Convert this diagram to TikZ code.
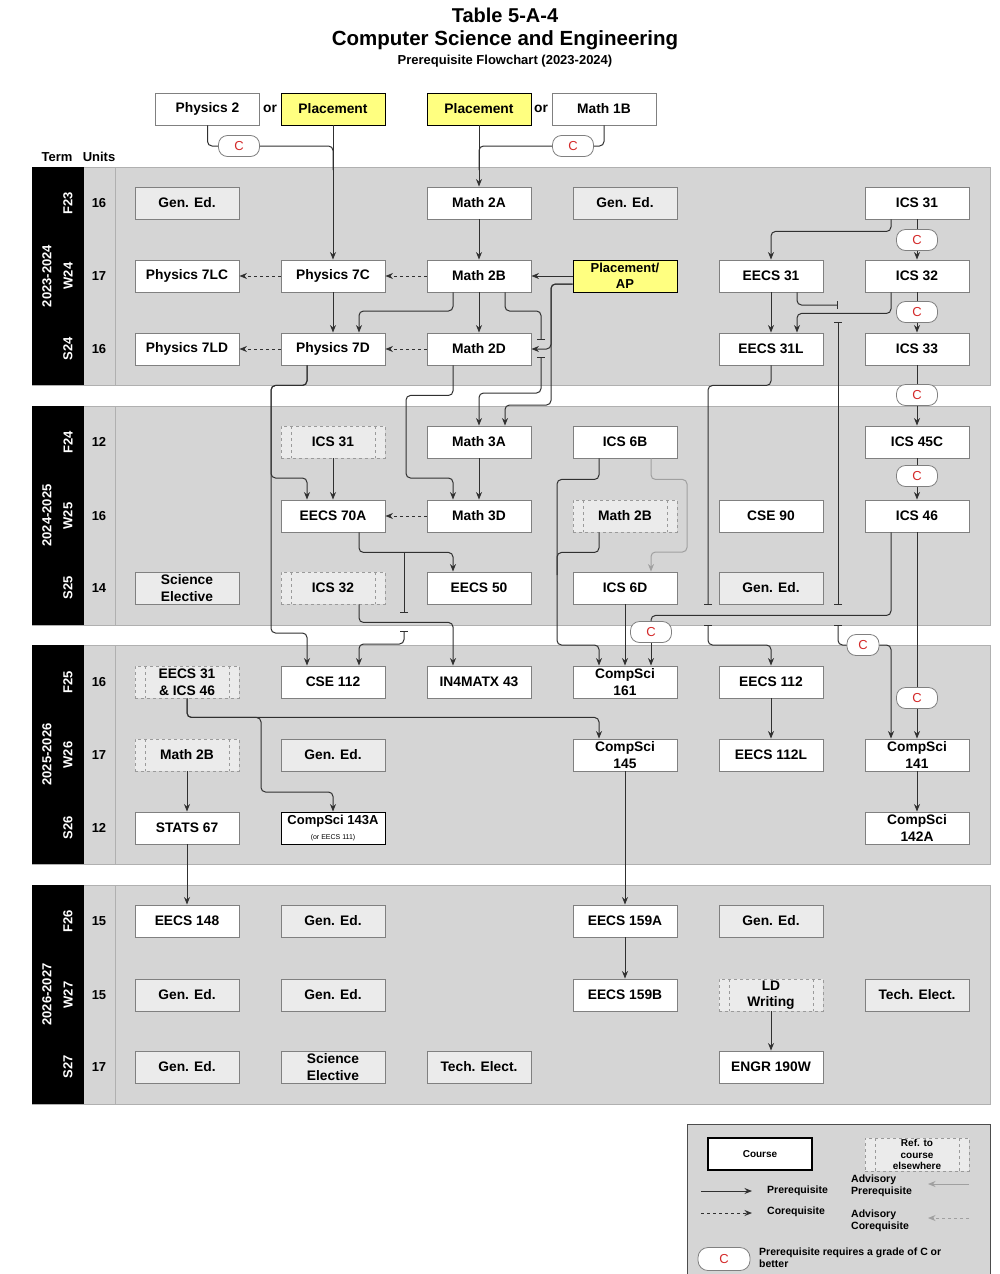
\documentclass[tikz,border=0pt]{standalone}
\usepackage{fontspec}
\setmainfont{Liberation Sans}
\usetikzlibrary{arrows.meta,calc}
\definecolor{panelc}{HTML}{D5D5D5}
\definecolor{genc}{HTML}{EBEBEB}
\definecolor{boxc}{HTML}{808080}
\definecolor{refc}{HTML}{9A9A9A}
\definecolor{yelc}{HTML}{FFFF80}
\definecolor{linec}{HTML}{303030}
\definecolor{advc}{HTML}{A0A0A0}
\definecolor{cred}{HTML}{D42A2A}
\definecolor{divc}{HTML}{B0B0B0}
\tikzset{
 box/.style={draw=boxc, line width=0.9pt, fill=white, minimum width=104pt, minimum height=32pt, inner sep=0pt, font=\fontsize{13.8}{16.5}\selectfont\bfseries, align=center},
 gened/.style={box, fill=genc},
 yel/.style={box, fill=yelc, draw=black},
 refbox/.style={box, fill=genc, draw=refc, dashed, path picture={\draw[refc,dashed,line width=0.8pt] ([xshift=10pt]path picture bounding box.north west) -- ([xshift=10pt]path picture bounding box.south west) ([xshift=-10pt]path picture bounding box.north east) -- ([xshift=-10pt]path picture bounding box.south east);}},
 cov/.style={draw=boxc, line width=0.8pt, fill=white, rounded corners=9pt, minimum width=41pt, minimum height=21pt, inner sep=0pt, text=cred, font=\fontsize{13}{13}\selectfont},
 ln/.style={draw=linec, line width=1pt, rounded corners=4.5pt},
 pre/.style={ln, -{Stealth[length=7.5pt,width=6pt]}},
 co/.style={pre, dashed},
 adv/.style={pre, draw=advc},
 brkend/.style={ln, -{Bar[width=8pt]}},
 brkboth/.style={ln, {Bar[width=8pt]}-{Bar[width=8pt]}},
 brkstart/.style={ln, {Bar[width=8pt]}-},
 brkpre/.style={ln, {Bar[width=8pt]}-{Stealth[length=7.5pt,width=6pt]}},
 txt/.style={inner sep=0pt, font=\fontsize{13.8}{16}\selectfont\bfseries},
 term/.style={inner sep=0pt, text=white, rotate=90, font=\fontsize{13}{13}\selectfont\bfseries},
 units/.style={inner sep=0pt, font=\fontsize{13}{13}\selectfont\bfseries},
 lt/.style={inner sep=0pt, font=\fontsize{10.5}{12}\selectfont\bfseries, align=left},
}
\begin{document}
\begin{tikzpicture}[x=1pt,y=-1pt]
\useasboundingbox (0,0) rectangle (1000,1274);
% titles
\node[txt, font=\fontsize{20}{20}\selectfont\bfseries] (t1) at (505,15) {Table 5-A-4};
\node[txt, font=\fontsize{20.5}{20}\selectfont\bfseries] (t2) at (505,40) {Computer Science and Engineering};
\node[txt, font=\fontsize{13}{13}\selectfont\bfseries] (t3) at (505,61) {Prerequisite Flowchart (2023-2024)};
\node[units] (hterm) at (57,157) {Term};
\node[units] (hunits) at (99,157) {Units};
% panels
\foreach \t/\b in {167/385, 406/625, 645/864, 885/1104} {
  \fill[panelc] (32,\t) rectangle (990,\b);
  \draw[divc, line width=0.6pt] (32,\t) rectangle (990,\b);
  \fill[black] (32,\t) rectangle (84,\b);
  \draw[divc, line width=0.8pt] (115,\t) -- (115,\b);
}
\node[term] (yr1) at (47,276) {2023-2024};
\node[term] (yr2) at (47,515.5) {2024-2025};
\node[term] (yr3) at (47,754.5) {2025-2026};
\node[term] (yr4) at (47,994.5) {2026-2027};
\foreach \n/\y/\u [count=\i] in {F23/203/16, W24/276/17, S24/349/16, F24/442/12, W25/516/16, S25/588/14, F25/682/16, W26/755/17, S26/828/12, F26/921/15, W27/995/15, S27/1067/17} {
  \node[term] (term\i) at (68,\y) {\n};
  \node[units] (unit\i) at (99,\y) {\u};
}
% top row
\node[box] (phy2) at (207.5,109) {Physics 2};
\node[txt] (or1) at (270,109) {or};
\node[yel] (plc1) at (333,109) {Placement};
\node[yel] (plc2) at (479,109) {Placement};
\node[txt] (or2) at (541,109) {or};
\node[box] (m1b) at (604,109) {Math 1B};
% year 1
\node[gened] (ge1) at (187,203) {Gen. Ed.};
\node[box] (m2a) at (479,203) {Math 2A};
\node[gened] (ge2) at (625,203) {Gen. Ed.};
\node[box] (ics31) at (917,203) {ICS 31};
\node[box] (p7lc) at (187,276) {Physics 7LC};
\node[box] (p7c) at (333,276) {Physics 7C};
\node[box] (m2b) at (479,276) {Math 2B};
\node[yel, font=\fontsize{13}{16}\selectfont\bfseries] (pap) at (625,276) {Placement/\\AP};
\node[box] (e31) at (771,276) {EECS 31};
\node[box] (ics32) at (917,276) {ICS 32};
\node[box] (p7ld) at (187,349) {Physics 7LD};
\node[box] (p7d) at (333,349) {Physics 7D};
\node[box] (m2d) at (479,349) {Math 2D};
\node[box] (e31l) at (771,349) {EECS 31L};
\node[box] (ics33) at (917,349) {ICS 33};
% year 2
\node[refbox] (r31) at (333,442) {ICS 31};
\node[box] (m3a) at (479,442) {Math 3A};
\node[box] (ics6b) at (625,442) {ICS 6B};
\node[box] (ics45c) at (917,442) {ICS 45C};
\node[box] (e70a) at (333,516) {EECS 70A};
\node[box] (m3d) at (479,516) {Math 3D};
\node[refbox] (r2b) at (625,516) {Math 2B};
\node[box] (cse90) at (771,516) {CSE 90};
\node[box] (ics46) at (917,516) {ICS 46};
\node[gened] (sci1) at (187,588) {Science\\Elective};
\node[refbox] (r32) at (333,588) {ICS 32};
\node[box] (e50) at (479,588) {EECS 50};
\node[box] (ics6d) at (625,588) {ICS 6D};
\node[gened] (ge3) at (771,588) {Gen. Ed.};
% year 3
\node[refbox] (r3146) at (187,682) {EECS 31\\\& ICS 46};
\node[box] (cse112) at (333,682) {CSE 112};
\node[box] (in4) at (479,682) {IN4MATX 43};
\node[box] (cs161) at (625,682) {CompSci\\161};
\node[box] (e112) at (771,682) {EECS 112};
\node[refbox] (r2bb) at (187,755) {Math 2B};
\node[gened] (ge4) at (333,755) {Gen. Ed.};
\node[box] (cs145) at (625,755) {CompSci\\145};
\node[box] (e112l) at (771,755) {EECS 112L};
\node[box] (cs141) at (917,755) {CompSci\\141};
\node[box] (stats) at (187,828) {STATS 67};
\node[box, draw=black, font=\fontsize{13}{15}\selectfont\bfseries] (cs143) at (333,828) {CompSci 143A\\{\fontsize{7}{8}\selectfont\mdseries (or EECS 111)}};
\node[box] (cs142) at (917,828) {CompSci\\142A};
% year 4
\node[box] (e148) at (187,921) {EECS 148};
\node[gened] (ge5) at (333,921) {Gen. Ed.};
\node[box] (e159a) at (625,921) {EECS 159A};
\node[gened] (ge6) at (771,921) {Gen. Ed.};
\node[gened] (ge7) at (187,995) {Gen. Ed.};
\node[gened] (ge8) at (333,995) {Gen. Ed.};
\node[box] (e159b) at (625,995) {EECS 159B};
\node[refbox] (ldw) at (771,995) {LD\\Writing};
\node[gened] (te1) at (917,995) {Tech. Elect.};
\node[gened] (ge9) at (187,1067) {Gen. Ed.};
\node[gened] (sci2) at (333,1067) {Science\\Elective};
\node[gened] (te2) at (479,1067) {Tech. Elect.};
\node[box] (engr) at (771,1067) {ENGR 190W};
% C ovals
\node[cov] (cA) at (239,146) {C};
\node[cov] (cB) at (573,146) {C};
\node[cov] (cC) at (917,240) {C};
\node[cov] (cD) at (917,312) {C};
\node[cov] (cE) at (917,395) {C};
\node[cov] (cF) at (917,476) {C};
\node[cov] (cG) at (651,632) {C};
\node[cov, minimum width=32pt] (cH) at (863,645) {C};
\node[cov] (cI) at (917,698) {C};
% break coordinates
\coordinate (bk1a) at (541,340); \coordinate (bk1b) at (541,357);
\coordinate (bk2a) at (404,613); \coordinate (bk2b) at (404,631);
\coordinate (bk3a) at (838,305); \coordinate (bk3b) at (838,322); \coordinate (bk3c) at (838,605); \coordinate (bk3d) at (838,625);
\coordinate (bk4a) at (708,605); \coordinate (bk4b) at (708,625);
% top edges
\draw[ln] (phy2.south) |- (cA.west);
\draw[ln] (cA.east) -| (333,170);
\draw[pre] (plc1.south) -- (p7c.north);
\draw[ln] (m1b.south) |- (cB.east);
\draw[ln] (cB.west) -| (479,170);
\draw[pre] (plc2.south) -- (m2a.north);
% year 1 edges
\draw[pre] (m2a) -- (m2b);
\draw[co] (p7c) -- (p7lc);
\draw[co] (m2b) -- (p7c);
\draw[co] (p7d) -- (p7ld);
\draw[co] (m2d) -- (p7d);
\draw[pre] (p7c) -- (p7d);
\draw[pre] (m2b) -- (m2d);
\draw[pre] ([xshift=-26pt]m2b.south) |- (400,311) -| ([xshift=26pt]p7d.north);
\draw[brkend] ([xshift=26pt]m2b.south) |- (530,311) -| (bk1a);
\draw[brkpre] (bk1b) -- (541,393) -| (m3a.north);
\draw[pre] (pap.west) -- (m2b.east);
\draw[pre] ([yshift=-8pt]pap.west) -| (551,349) -- (m2d.east);
\draw[pre] ([yshift=-8pt]pap.west) -| (551,405) -| ([xshift=26pt]m3a.north);
\draw[pre] ([xshift=-26pt]m2d.south) -- ++(0,30) -| (406,478) -| ([xshift=-26pt]m3d.north);
\draw[pre] ([xshift=-26pt]p7d.south) -- ++(0,20) -| (271,478) -| ([xshift=-26pt]e70a.north);
\draw[pre] ([xshift=-26pt]p7d.south) -- ++(0,20) -| (271,633) -| ([xshift=-26pt]cse112.north);
\draw[pre] ([xshift=-26pt]ics31.south) -- ++(0,12) -| (e31.north);
\draw[ln] (ics31.south) -- (cC.north);
\draw[pre] (cC.south) -- (ics32.north);
\draw[ln] (ics32.south) -- (cD.north);
\draw[pre] (cD.south) -- (ics33.north);
\draw[pre] (e31) -- (e31l);
\draw[brkend] ([xshift=26pt]e31.south) |- (bk3a);
\draw[pre] ([xshift=-26pt]ics32.south) -- ++(0,21) -| ([xshift=26pt]e31l.north);
\draw[brkboth] (bk3b) -- (bk3c);
\draw[brkstart] (bk3d) |- (cH.west);
\draw[pre] (cH.east) -| ([xshift=-26pt]cs141.north);
\draw[brkend] (e31l.south) -- ++(0,20) -| (bk4a);
\draw[brkpre] (bk4b) -- (708,645) -| (e112.north);
\draw[ln] (ics33.south) -- (cE.north);
\draw[pre] (cE.south) -- (ics45c.north);
\draw[ln] (ics45c.south) -- (cF.north);
\draw[pre] (cF.south) -- (ics46.north);
% year 2 edges
\draw[pre] (r31) -- (e70a);
\draw[pre] (m3a) -- (m3d);
\draw[co] (m3d) -- (e70a);
\draw[pre] ([xshift=26pt]e70a.south) -- ++(0,20) -| ([xshift=-26pt]e50.north);
\draw[brkend] (404,552) -- (bk2a);
\draw[brkpre] (bk2b) -- (404,644) -| ([xshift=26pt]cse112.north);
\draw[pre] ([xshift=26pt]r32.south) -- ++(0,18) -| ([xshift=-26pt]in4.north);
\draw[pre] ([xshift=-26pt]ics6b.south) -- ++(0,21) -| (557,645) -| ([xshift=-26pt]cs161.north);
\draw[ln] ([xshift=-26pt]r2b.south) -- ++(0,20) -| (557,575);
\draw[adv] ([xshift=26pt]ics6b.south) -- ++(0,21) -| (687,552) -| ([xshift=26pt]ics6d.north);
\draw[pre] (ics6d) -- (cs161);
\draw[ln] ([xshift=-26pt]ics46.south) -- ++(0,83) -| (cG.north);
\draw[pre] (cG.south) -- ([xshift=26pt]cs161.north);
\draw[ln] (ics46.south) -- (cI.north);
\draw[pre] (cI.south) -- (cs141.north);
% year 3/4 edges
\draw[pre] (e112) -- (e112l);
\draw[pre] (r3146.south) -- ++(0,19) -| ([xshift=-26pt]cs145.north);
\draw[pre] (r3146.south) -- ++(0,19) -| (261,792) -| (cs143.north);
\draw[pre] (r2bb) -- (stats);
\draw[pre] (stats) -- (e148);
\draw[pre] (cs145) -- (e159a);
\draw[pre] (cs141) -- (cs142);
\draw[pre] (e159a) -- (e159b);
\draw[pre] (ldw) -- (engr);
% legend
\fill[panelc] (687,1124) rectangle (990,1276);
\draw[black!70, line width=1pt] (687,1276) -- (687,1124) -- (990,1124) -- (990,1276);
\node[box, draw=black, line width=1.2pt, font=\fontsize{10}{12}\selectfont\bfseries] (lgc) at (760,1154) {Course};
\node[refbox, minimum height=33pt, font=\fontsize{10}{11.5}\selectfont\bfseries] (lgr) at (917,1154.5) {Ref. to\\course\\elsewhere};
\coordinate (la1) at (701,1191); \coordinate (la2) at (752,1191);
\coordinate (lb1) at (701,1213); \coordinate (lb2) at (752,1213);
\coordinate (lc1) at (969,1184); \coordinate (lc2) at (928,1184);
\coordinate (ld1) at (969,1218); \coordinate (ld2) at (928,1218);
\draw[pre] (la1) -- (la2);
\draw[co] (lb1) -- (lb2);
\draw[adv] (lc1) -- (lc2);
\draw[adv, dashed] (ld1) -- (ld2);
\node[lt, anchor=west] (lgp) at (767,1191) {Prerequisite};
\node[lt, anchor=west] (lgq) at (767,1212) {Corequisite};
\node[lt, anchor=west] (lgap) at (851,1186) {Advisory\\Prerequisite};
\node[lt, anchor=west] (lgac) at (851,1221) {Advisory\\Corequisite};
\node[cov, minimum width=52pt, minimum height=23pt, rounded corners=10pt] (lgC) at (724,1259) {C};
\node[lt, anchor=north west] (lgt) at (759,1248) {Prerequisite requires a grade of C or\\better};
\end{tikzpicture}
\end{document}
